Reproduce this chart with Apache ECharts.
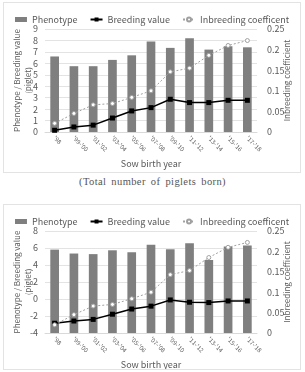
<!DOCTYPE html>
<html>
<head>
<meta charset="utf-8">
<script src="https://cdn.jsdelivr.net/npm/echarts@6/dist/echarts.min.js"></script>
<style>
	body { margin: 0; background: #fff; }
	.box { position: absolute; left: 3px; width: 298px; border: 1px solid #e3e3e3; box-sizing: border-box; }
	#chartTop { top: 2px; height: 171px; }
	#chartBottom { top: 204px; height: 166px; }
	#caption { position: absolute; left: 0; top: 176px; width: 305px; text-align: center;
		font-family: "Liberation Serif", "DejaVu Serif", serif; font-size: 10.5px; font-weight: normal;
		color: #555; letter-spacing: 0.4px; word-spacing: 2px; }
</style>
</head>
<body>
<div id="chartTop" class="box"></div>
<div id="caption">(Total number of piglets born)</div>
<div id="chartBottom" class="box"></div>
<script>
// 出生年份
var years = ["'98", "'99-'00", "'01-'02", "'03-'04", "'05-'06", "'07-'08", "'09-'10", "'11-'12", "'13-'14", "'15-'16", "'17-'18"];

// 上图：总产仔数
var topPhenotype = [6.6, 5.75, 5.75, 6.3, 6.7, 7.9, 7.35, 8.2, 7.2, 7.5, 7.4];
var topBreeding = [0.15, 0.44, 0.6, 1.22, 1.84, 2.13, 2.86, 2.57, 2.57, 2.77, 2.77];
var topInbreeding = [0.021, 0.045, 0.066, 0.069, 0.084, 0.1, 0.146, 0.155, 0.186, 0.21, 0.222];

// 下图
var bottomPhenotype = [5.81, 5.35, 5.28, 5.73, 5.5, 6.38, 5.85, 6.57, 4.59, 6.19, 6.3];
var bottomBreeding = [-2.85, -2.59, -2.4, -1.79, -1.18, -0.84, -0.11, -0.38, -0.42, -0.23, -0.23];
var bottomInbreeding = [0.02, 0.045, 0.066, 0.07, 0.084, 0.1, 0.143, 0.153, 0.185, 0.21, 0.222];

// 坐标轴刻度
var topLeftAxis = { min: 0, max: 9, interval: 1 };
var bottomLeftAxis = { min: -4, max: 8, interval: 2 };
var rightAxis = { min: 0, max: 0.25, interval: 0.05 };

var font = '"Noto Sans CJK KR", "Noto Sans", sans-serif';
var grey = '#595959';

function buildOption(phenotype, breeding, inbreeding, leftAxis, gridTop, gridBottom) {
	return {
		animation: false,
		textStyle: { fontFamily: font },
		legend: {
			top: 7,
			left: 'center',
			itemWidth: 12,
			itemHeight: 5,
			itemGap: 12,
			textStyle: { fontSize: 9, color: grey, fontFamily: font },
			data: [
				{ name: 'Phenotype', icon: 'rect' },
				{ name: 'Breeding value' },
				{ name: 'Inbreeding coefficent' }
			]
		},
		grid: { left: 41, right: 43, top: gridTop, bottom: gridBottom, outerBoundsMode: 'none' },
		xAxis: {
			type: 'category',
			data: years,
			name: 'Sow birth year',
			nameLocation: 'middle',
			nameGap: 24,
			nameTextStyle: { fontSize: 9, color: grey },
			axisTick: { show: false },
			axisLine: { onZero: false, lineStyle: { color: '#d9d9d9' } },
			axisLabel: { rotate: -45, fontSize: 6, color: grey, margin: 5, interval: 0 }
		},
		yAxis: [
			{
				type: 'value',
				min: leftAxis.min,
				max: leftAxis.max,
				interval: leftAxis.interval,
				startValue: leftAxis.min,
				name: 'Phenotype / Breeding value\n(piglet)',
				nameLocation: 'middle',
				nameRotate: 90,
				nameGap: 12,
				nameMoveOverlap: false,
				nameTextStyle: { fontSize: 8, color: grey, lineHeight: 11 },
				axisLabel: { fontSize: 9, color: grey, margin: 7 },
				splitLine: { lineStyle: { color: '#e3e3e3' } }
			},
			{
				type: 'value',
				min: rightAxis.min,
				max: rightAxis.max,
				interval: rightAxis.interval,
				name: 'Inbreeding coefficient',
				nameLocation: 'middle',
				nameRotate: 90,
				nameGap: 26,
				nameMoveOverlap: false,
				nameTextStyle: { fontSize: 8, color: grey },
				axisLabel: { fontSize: 9, color: grey, margin: 10 },
				splitLine: { show: false }
			}
		],
		series: [
			{
				name: 'Phenotype',
				type: 'bar',
				barWidth: '45%',
				itemStyle: { color: '#7f7f7f' },
				data: phenotype
			},
			{
				name: 'Breeding value',
				type: 'line',
				symbol: 'rect',
				symbolSize: 5,
				itemStyle: { color: '#000' },
				lineStyle: { color: '#000', width: 1.5 },
				data: breeding
			},
			{
				name: 'Inbreeding coefficent',
				type: 'line',
				yAxisIndex: 1,
				symbol: 'circle',
				symbolSize: 4,
				itemStyle: { color: '#fff', borderColor: '#a0a0a0', borderWidth: 1 },
				lineStyle: { color: '#a0a0a0', width: 1, type: [2, 2] },
				data: inbreeding
			}
		]
	};
}

var topChart = echarts.init(document.getElementById('chartTop'));
topChart.setOption(buildOption(topPhenotype, topBreeding, topInbreeding, topLeftAxis, 26, 40));

var bottomChart = echarts.init(document.getElementById('chartBottom'));
bottomChart.setOption(buildOption(bottomPhenotype, bottomBreeding, bottomInbreeding, bottomLeftAxis, 26, 36));
</script>
</body>
</html>
